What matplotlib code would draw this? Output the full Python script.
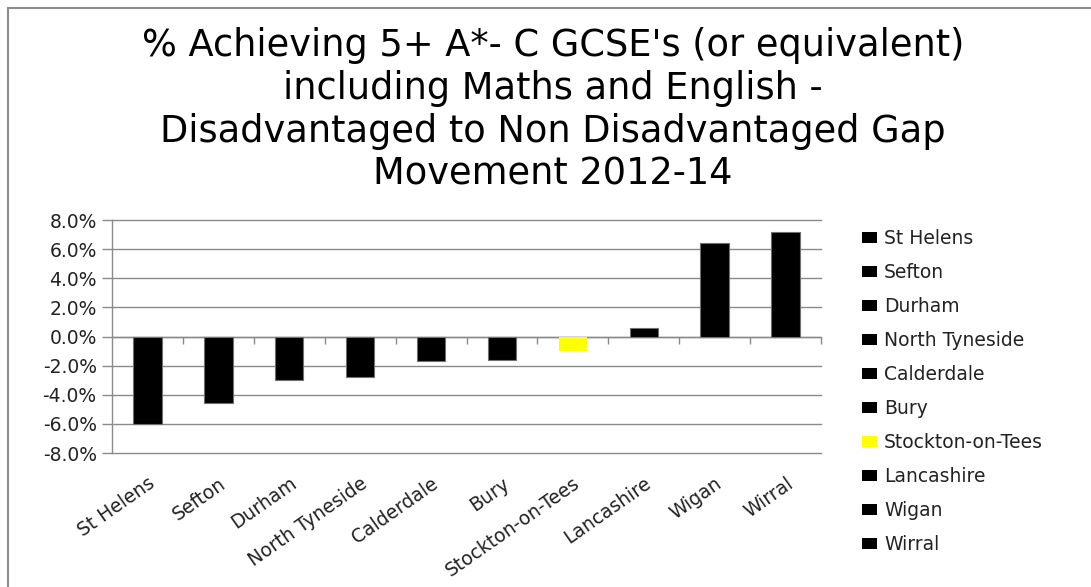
import matplotlib
matplotlib.use("Agg")
import matplotlib.pyplot as plt
from matplotlib.patches import Patch, Rectangle
from matplotlib.ticker import FuncFormatter, MultipleLocator
import numpy as np

# Gap movement 2012-14 (percentage points) by local authority
authorities = ["St Helens", "Sefton", "Durham", "North Tyneside", "Calderdale",
               "Bury", "Stockton-on-Tees", "Lancashire", "Wigan", "Wirral"]
gap_movement = [-6.0, -4.6, -3.0, -2.8, -1.7, -1.6, -1.0, 0.6, 6.4, 7.2]
highlight = "Stockton-on-Tees"

title = ("% Achieving 5+ A*- C GCSE's (or equivalent)\n"
         "including Maths and English -\n"
         "Disadvantaged to Non Disadvantaged Gap\n"
         "Movement 2012-14")

W, H = 1091, 587
fig = plt.figure(figsize=(W / 100, H / 100), dpi=100)
fig.patch.set_facecolor("white")

grid_grey = "#8a8a8a"
text_col = "#222222"
colors = ["#ffff00" if a == highlight else "black" for a in authorities]
edges = ["none" if a == highlight else "#707070" for a in authorities]

ax = fig.add_axes([112 / W, 1 - 453 / H, (821 - 112) / W, (453 - 220) / H])
x = np.arange(len(authorities))
ax.bar(x, gap_movement, width=0.4, color=colors, edgecolor=edges,
       linewidth=0.8, zorder=3)

ax.set_xlim(-0.5, len(authorities) - 0.5)
ax.set_ylim(-8, 8)
ax.yaxis.set_major_locator(MultipleLocator(2))
ax.yaxis.set_major_formatter(FuncFormatter(lambda v, p: f"{v:.1f}%"))
ax.grid(axis="y", color=grid_grey, linewidth=1.0, zorder=0)
ax.set_axisbelow(True)
for gl in ax.get_ygridlines():
    gl.set_clip_on(False)

for side in ["top", "right", "bottom"]:
    ax.spines[side].set_visible(False)
ax.spines["left"].set_color(grid_grey)
ax.spines["left"].set_linewidth(1.0)

# zero line with category-boundary tick marks
ax.axhline(0, color=grid_grey, linewidth=1.0, zorder=2)
bounds = np.arange(0.5, len(authorities), 1.0)
ax.plot(bounds, np.zeros_like(bounds), linestyle="none", marker=3,
        markersize=5, markeredgewidth=1.0, color=grid_grey, zorder=2,
        clip_on=False)

ax.tick_params(axis="y", length=7, width=1.0, color=grid_grey, pad=4,
               labelsize=13.5, labelcolor=text_col)
ax.set_xticks(x)
ax.set_xticklabels(authorities, rotation=35, ha="right",
                   rotation_mode="anchor", fontsize=13.5, color=text_col)
ax.tick_params(axis="x", length=0, pad=15)

fig.text(553 / W, 1 - 27 / H, title, ha="center", va="top",
         fontsize=26.5, linespacing=1.2, color="black")

handles = [Patch(facecolor=c, edgecolor="none") for c in colors]
fig.legend(handles, authorities, loc="upper left",
           bbox_to_anchor=(862 / W, 1 - 229 / H), frameon=False,
           fontsize=13.5, handlelength=0.82, handleheight=0.55,
           handletextpad=0.35, labelspacing=0.8, borderpad=0,
           borderaxespad=0, labelcolor=text_col)

# outer chart-area frame
fig.add_artist(Rectangle((8 / W, -0.1), 1.2, 1 - 8 / H + 0.1,
                         transform=fig.transFigure, fill=False,
                         edgecolor="#8c8c8c", linewidth=1.5))

fig.savefig("out.png", dpi=100, facecolor="white")
